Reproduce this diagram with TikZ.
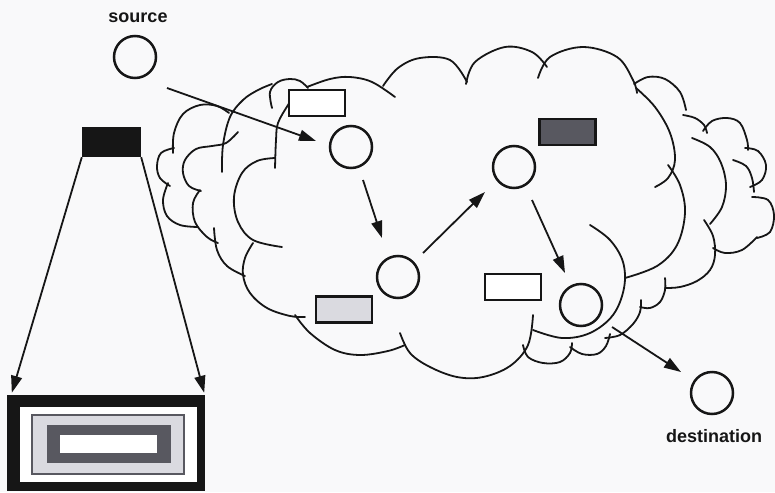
\documentclass[tikz,border=0pt]{standalone}
\usepackage{fontspec}
\setmainfont{Liberation Sans}
\usetikzlibrary{arrows.meta,calc}
\definecolor{paper}{RGB}{249,249,250}
\definecolor{ink}{RGB}{22,22,22}
\definecolor{darkfill}{RGB}{88,88,96}
\definecolor{lightfill}{RGB}{218,218,224}
\begin{document}
\begin{tikzpicture}[x=1pt,y=-1pt,
  cloudline/.style={draw=ink, line width=1.8pt, line cap=round},
  station/.style={circle, draw=ink, line width=2.5pt, minimum size=42pt, inner sep=0pt},
  flow/.style={draw=ink, line width=1.8pt, -{Triangle[length=17pt,width=11pt]}},
  caption/.style={font=\fontsize{18}{20}\selectfont\bfseries, anchor=base, inner sep=0pt, text=ink},
  tagbox/.style={rectangle, draw=ink, line width=2.5pt, inner sep=0pt, minimum width=56pt, minimum height=26pt}]
\useasboundingbox (0,0) rectangle (775,492);
\fill[paper] (0,0) rectangle (775,492);

% ---- cloud: front outline ----
\draw[cloudline] plot[smooth,tension=0.6] coordinates {(307,87) (330,79) (350,77) (372,82) (395,97)};
\draw[cloudline] plot[smooth,tension=0.6] coordinates {(383,86) (398,68) (420,58) (450,60) (467,82)};
\draw[cloudline] plot[smooth,tension=0.6] coordinates {(466,84) (475,62) (505,47) (532,52) (547,67)};
\draw[cloudline] plot[smooth,tension=0.6] coordinates {(538,78) (550,57) (583,47) (617,57) (633,80) (637,93)};
\draw[cloudline] plot[smooth,tension=0.6] coordinates {(636,88) (655,107) (670,133) (675,160) (668,178) (655,187)};
\draw[cloudline] plot[smooth,tension=0.6] coordinates {(668,165) (680,185) (685,213) (677,245) (657,266) (625,278)};
\draw[cloudline] plot[smooth,tension=0.6] coordinates {(590,225) (610,240) (623,262) (624,288) (613,315) (590,333) (562,338) (533,330)};
\draw[cloudline] plot[smooth,tension=0.6] coordinates {(533,315) (528,345) (510,366) (483,377) (457,377) (430,367) (410,353) (400,333)};
\draw[cloudline] plot[smooth,tension=0.6] coordinates {(295,315) (310,333) (335,350) (360,355) (388,351) (405,345)};
\draw[cloudline] plot[smooth,tension=0.6] coordinates {(253,243) (245,258) (243,275) (250,293) (267,308) (290,316) (305,317)};
\draw[cloudline] plot[smooth,tension=0.6] coordinates {(275,158) (257,161) (242,173) (234,197) (238,222) (253,240) (282,247)};
\draw[cloudline] plot[smooth,tension=0.6] coordinates {(275,168) (276,140) (278,123) (288,105) (295,95)};
\draw[cloudline] plot[smooth,tension=0.6] coordinates {(272,108) (270,92) (278,82) (290,79) (300,81) (308,88)};

% ---- cloud: left back layers ----
\draw[cloudline] plot[smooth,tension=0.6] coordinates {(222,172) (223,145) (230,117) (243,100) (258,90) (272,84)};
\draw[cloudline] plot[smooth,tension=0.6] coordinates {(238,132) (226,143) (212,146) (196,149) (185,160) (183,173) (189,186) (201,191)};
\draw[cloudline] plot[smooth,tension=0.6] coordinates {(200,190) (193,203) (195,222) (207,237) (218,243)};
\draw[cloudline] plot[smooth,tension=0.6] coordinates {(214,228) (217,250) (227,266) (245,276)};
\draw[cloudline] plot[smooth,tension=0.6] coordinates {(173,153) (174,133) (183,114) (200,105) (217,106) (229,113)};
\draw[cloudline] plot[smooth,tension=0.6] coordinates {(174,148) (161,153) (157,166) (160,178) (170,186)};
\draw[cloudline] plot[smooth,tension=0.6] coordinates {(168,183) (163,200) (167,216) (180,225) (198,227)};

% ---- cloud: right back layers ----
\draw[cloudline] plot[smooth,tension=0.6] coordinates {(634,84) (648,77) (665,79) (680,92) (686,110)};
\draw[cloudline] plot[smooth,tension=0.6] coordinates {(683,115) (695,118) (704,125) (707,133)};
\draw[cloudline] plot[smooth,tension=0.6] coordinates {(692,138) (710,147) (721,163) (726,185) (722,207) (710,224)};
\draw[cloudline] plot[smooth,tension=0.6] coordinates {(704,220) (713,236) (715,255) (710,270) (697,281) (680,287) (665,288)};
\draw[cloudline] plot[smooth,tension=0.6] coordinates {(703,131) (712,121) (727,118) (740,123) (747,140) (748,150)};
\draw[cloudline] plot[smooth,tension=0.6] coordinates {(745,148) (758,151) (766,165) (762,180) (750,187)};
\draw[cloudline] plot[smooth,tension=0.6] coordinates {(733,160) (746,166) (752,178) (754,192)};
\draw[cloudline] plot[smooth,tension=0.6] coordinates {(752,197) (768,200) (774,215) (770,232) (757,238)};
\draw[cloudline] plot[smooth,tension=0.6] coordinates {(757,237) (742,250) (725,253) (713,248)};
\draw[cloudline] plot[smooth,tension=0.6] coordinates {(665,278) (665,290) (660,302) (650,308) (640,307)};
\draw[cloudline] plot[smooth,tension=0.6] coordinates {(641,300) (640,312) (633,324) (620,335) (605,338)};
\draw[cloudline] plot[smooth,tension=0.6] coordinates {(610,334) (606,346) (597,354) (582,354) (570,347)};
\draw[cloudline] plot[smooth,tension=0.6] coordinates {(572,343) (570,353) (560,362) (543,363) (528,357) (523,345)};

% ---- stations ----
\node[station] (src) at (135,57) {};
\node[station] (n1)  at (351,147) {};
\node[station] (n2)  at (398,277) {};
\node[station] (n3)  at (514,167) {};
\node[station] (n4)  at (581,305) {};
\node[station] (dst) at (712,393) {};

\node[caption] (srclabel) at (138,23) {source};
\node[caption] (dstlabel) at (714,442) {destination};

% ---- packets ----
\node[tagbox, fill=white]     (r1) at (317,103) {};
\node[tagbox, fill=darkfill]  (r2) at (567.5,132) {};
\node[tagbox, fill=lightfill] (r3) at (344,309.5) {};
\node[tagbox, fill=white]     (r4) at (513,287) {};
\node[rectangle, fill=ink, minimum width=59pt, minimum height=30pt, inner sep=0pt] (blk) at (111.5,142) {};

% ---- enlarged packet ----
\node[rectangle, fill=ink, minimum width=198pt, minimum height=96pt, inner sep=0pt] (frame) at (106,443) {};
\node[rectangle, fill=white, minimum width=177pt, minimum height=75pt, inner sep=0pt] (frameinner) at (108.5,444.5) {};
\node[rectangle, fill=lightfill, draw=darkfill, line width=1.4pt, minimum width=152pt, minimum height=59pt, inner sep=0pt] (layerone) at (108,444.5) {};
\node[rectangle, fill=darkfill, minimum width=124pt, minimum height=38pt, inner sep=0pt] (layertwo) at (109,444) {};
\node[rectangle, fill=white, minimum width=97pt, minimum height=18pt, inner sep=0pt] (payload) at (108.5,444) {};

% ---- connectors ----
\draw[flow] ($(src)+(32,31)$) -- ($(n1)+(-35,-6)$);
\draw[flow] ($(n1)+(12,33)$) -- ($(n2)+(-16,-39)$);
\draw[flow] ($(n2)+(25,-24)$) -- ($(n3)+(-29,25)$);
\draw[flow] ($(n3)+(18,33)$) -- ($(n4)+(-16,-32)$);
\draw[flow] ($(n4)+(31,22)$) -- ($(dst)+(-31,-21)$);
\draw[flow] (blk.south west) -- ($(frame.north west)+(5,-2)$);
\draw[flow] (blk.south east) -- ($(frame.north east)+(-1,-2)$);
\end{tikzpicture}
\end{document}
